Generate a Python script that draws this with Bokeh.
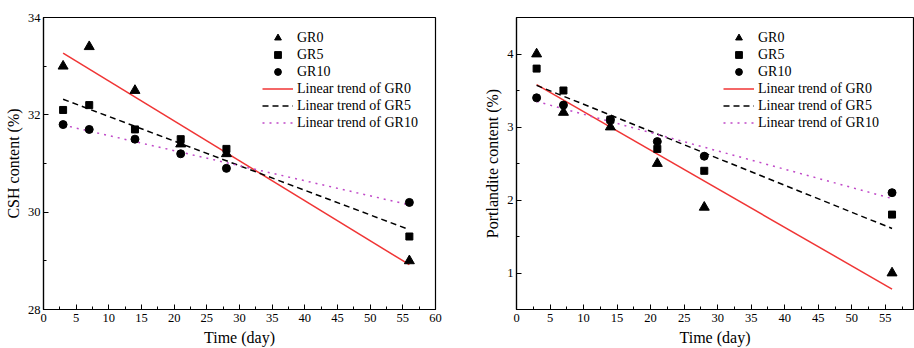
from bokeh.plotting import figure
from bokeh.layouts import row
from bokeh.models import Range1d, FixedTicker, Legend, LegendItem
from bokeh.embed import file_html
from bokeh.resources import INLINE

# ---- data ----
days = [3, 7, 14, 21, 28, 56]
csh_gr0 = [33.0, 33.4, 32.5, 31.4, 31.2, 29.0]
csh_gr5 = [32.1, 32.2, 31.7, 31.5, 31.3, 29.5]
csh_gr10 = [31.8, 31.7, 31.5, 31.2, 30.9, 30.2]
ch_gr0 = [4.0, 3.2, 3.0, 2.5, 1.9, 1.0]
ch_gr5 = [3.8, 3.5, 3.1, 2.7, 2.4, 1.8]
ch_gr10 = [3.4, 3.3, 3.1, 2.8, 2.6, 2.1]
trend_x = [3, 56]
csh_trend_gr0 = [33.27, 28.92]
csh_trend_gr5 = [32.32, 29.64]
csh_trend_gr10 = [31.79, 30.15]
ch_trend_gr0 = [3.58, 0.78]
ch_trend_gr5 = [3.57, 1.61]
ch_trend_gr10 = [3.35, 2.02]
x_ticks = [0, 5, 10, 15, 20, 25, 30, 35, 40, 45, 50, 55, 60]
x_minor = [2.5, 7.5, 12.5, 17.5, 22.5, 27.5, 32.5, 37.5, 42.5, 47.5, 52.5, 57.5]
csh_ticks = [28, 30, 32, 34]
csh_minor = [29, 31, 33]
ch_ticks = [1, 2, 3, 4]
ch_minor = [1.5, 2.5, 3.5]
series_names = ["GR0", "GR5", "GR10"]

FONT = "Liberation Serif"
RED = "#f03535"
MAG = "#c048c8"


def make(width, height, xr, yr, yticks, yminor, ylabel, g0, g5, g10, t0, t5, t10,
         bl, br, bt, bb, leg_xy):
    p = figure(width=width, height=height, output_backend="svg", toolbar_location=None,
               x_range=Range1d(*xr), y_range=Range1d(*yr),
               min_border_left=bl, min_border_right=br, min_border_top=bt, min_border_bottom=bb)
    p.grid.visible = False
    p.outline_line_color = "black"
    p.outline_line_width = 1.2
    p.background_fill_color = "white"
    p.border_fill_color = "white"
    p.xaxis.ticker = FixedTicker(ticks=x_ticks, minor_ticks=x_minor)
    p.yaxis.ticker = FixedTicker(ticks=yticks, minor_ticks=yminor)
    for ax in (p.xaxis[0], p.yaxis[0]):
        ax.major_tick_in = 5
        ax.major_tick_out = 0
        ax.minor_tick_in = 3
        ax.minor_tick_out = 0
        ax.axis_line_color = "black"
        ax.axis_line_width = 1.2
        ax.major_label_text_font = FONT
        ax.major_label_text_font_size = "12.5px"
        ax.major_label_text_color = "black"
        ax.axis_label_text_font = FONT
        ax.axis_label_text_font_size = "16px"
        ax.axis_label_text_font_style = "normal"
        ax.axis_label_text_color = "black"
        ax.major_label_standoff = 3
    p.xaxis.major_label_standoff = 4
    p.xaxis.axis_label = "Time (day)"
    p.xaxis.axis_label_standoff = 4
    p.yaxis.axis_label = ylabel
    p.yaxis.axis_label_standoff = 3

    r_l0 = p.line(trend_x, t0, line_color=RED, line_width=1.5)
    r_l5 = p.line(trend_x, t5, line_color="black", line_width=1.5, line_dash="6 4")
    r_l10 = p.line(trend_x, t10, line_color=MAG, line_width=1.5, line_dash="2 5")
    r0 = p.scatter(days, g0, marker="triangle", size=10, color="black")
    r5 = p.scatter(days, g5, marker="square", size=7, color="black")
    r10 = p.scatter(days, g10, marker="circle", size=8, color="black")

    items = [
        LegendItem(label=series_names[0], renderers=[r0]),
        LegendItem(label=series_names[1], renderers=[r5]),
        LegendItem(label=series_names[2], renderers=[r10]),
        LegendItem(label="Linear trend of " + series_names[0], renderers=[r_l0]),
        LegendItem(label="Linear trend of " + series_names[1], renderers=[r_l5]),
        LegendItem(label="Linear trend of " + series_names[2], renderers=[r_l10]),
    ]
    leg = Legend(items=items, location=leg_xy, border_line_color=None,
                 background_fill_alpha=0, padding=0, spacing=0, margin=0,
                 glyph_width=31, glyph_height=17, label_height=17,
                 label_standoff=4, label_text_font=FONT, label_text_font_size="14px",
                 label_text_color="black")
    p.add_layout(leg)
    return p


left = make(460, 348, (0, 60), (28, 34), csh_ticks, csh_minor, "CSH content (%)",
            csh_gr0, csh_gr5, csh_gr10, csh_trend_gr0, csh_trend_gr5, csh_trend_gr10,
            43, 25, 17, 37, (219, 178))
right = make(454, 348, (0, 59.2), (0.5, 4.5), ch_ticks, ch_minor, "Portlandite content (%)",
             ch_gr0, ch_gr5, ch_gr10, ch_trend_gr0, ch_trend_gr5, ch_trend_gr10,
             56, 1, 12, 39, (207, 178))

lay = row(left, right)
open("out.html", "w").write(file_html(lay, INLINE))
